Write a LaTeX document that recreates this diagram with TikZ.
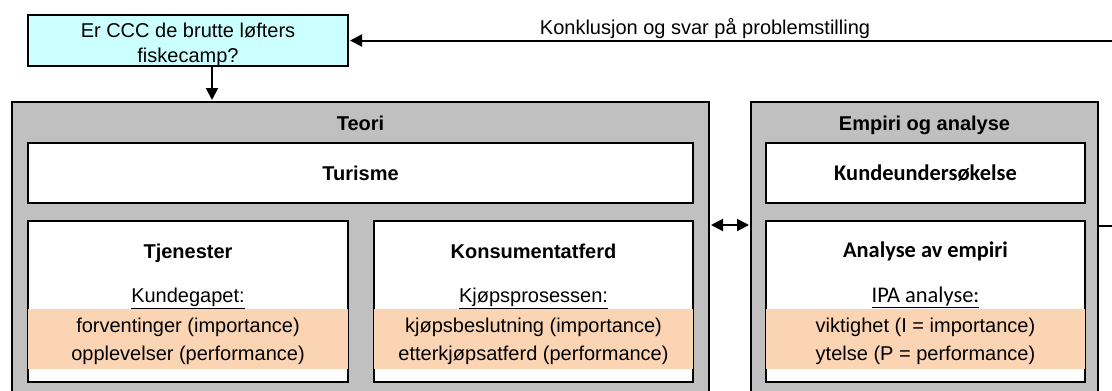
\documentclass[tikz,border=0pt]{standalone}
\usepackage{fontspec}
\setmainfont{Liberation Sans}
\newfontfamily\calibrifont{Carlito}
\usetikzlibrary{fit,arrows.meta}
\definecolor{qcyan}{HTML}{CCFFFF}
\definecolor{panelgray}{HTML}{C0C0C0}
\definecolor{peach}{HTML}{FBD4B4}
\tikzset{
  frame/.style={draw=black, line width=1.5pt, inner sep=0pt},
  txt/.style={anchor=base, inner sep=0pt, font=\fontsize{15}{18}\selectfont},
  hd/.style={anchor=base, inner sep=0pt, font=\fontsize{15}{18}\selectfont\bfseries},
  chd/.style={anchor=base, inner sep=0pt, font=\calibrifont\fontsize{16.8}{20}\selectfont\bfseries},
  ctxt/.style={anchor=base, inner sep=0pt, font=\calibrifont\fontsize{16.8}{20}\selectfont},
  headtip/.tip={Triangle[length=9pt,width=9pt]},
  arrowline/.style={line width=1.5pt, -headtip},
  bandfill/.style={fill=peach},
}
\begin{document}
\begin{tikzpicture}[x=0.75pt,y=-0.75pt]
\useasboundingbox (0,0) rectangle (1112,390);

% research question
\node[frame, fill=qcyan, fit={(28,15)(348,66)}] (q) {};
\node[txt] at (188,37) {Er CCC de brutte løfters};
\node[txt] at (188,62) {fiskecamp?};

% outer panels
\node[frame, fill=panelgray, fit={(12,102)(709,400)}] (teori) {};
\node[frame, fill=panelgray, fit={(751,102)(1098,400)}] (empiri) {};
\node[hd] at (360.5,130) {Teori};
\node[hd] at (924.5,130) {Empiri og analyse};

% band limits
\coordinate (b1) at (0,309);
\coordinate (b2) at (0,369);

% Teori contents
\node[frame, fill=white, fit={(28,143)(693,203)}] (turisme) {};
\node[hd] at (360.5,180) {Turisme};

\node[frame, fill=white, fit={(28,221)(348,382)}] (tj) {};
\fill[bandfill] ([xshift=0.75pt]tj.west |- b1) rectangle ([xshift=-0.75pt]tj.east |- b2);
\node[hd] at (188,258) {Tjenester};
\node[txt] at (188,302) {\underline{Kundegapet:}};
\node[txt] at (188,332) {forventinger (importance)};
\node[txt] at (188,360) {opplevelser (performance)};

\node[frame, fill=white, fit={(374,221)(693,382)}] (ka) {};
\fill[bandfill] ([xshift=0.75pt]ka.west |- b1) rectangle ([xshift=-0.75pt]ka.east |- b2);
\node[hd] at (533.5,258) {Konsumentatferd};
\node[txt] at (533.5,302) {\underline{Kjøpsprosessen:}};
\node[txt] at (533.5,332) {kjøpsbeslutning (importance)};
\node[txt] at (533.5,360) {etterkjøpsatferd (performance)};

% Empiri contents
\node[frame, fill=white, fit={(766,143)(1085,203)}] (ku) {};
\node[chd] at (925.5,180) {Kundeundersøkelse};

\node[frame, fill=white, fit={(766,221)(1085,382)}] (ae) {};
\fill[bandfill] ([xshift=0.75pt]ae.west |- b1) rectangle ([xshift=-0.75pt]ae.east |- b2);
\node[chd] at (925.5,257) {Analyse av empiri};
\node[ctxt] at (925.5,302) {\underline{IPA analyse:}};
\node[txt] at (925.5,332) {viktighet (I = importance)};
\node[txt] at (925.5,360) {ytelse (P = performance)};

% connectors
\draw[arrowline] (q.south -| 212,0) -- ([yshift=0.75pt]teori.north -| 212,0);
\coordinate (mid) at (0,225);
\draw[line width=1.5pt, headtip-headtip]
  ([xshift=0.75pt]teori.east |- mid) -- ([xshift=-0.75pt]empiri.west |- mid);
\coordinate (rc) at (1116,226);
\draw[arrowline] (empiri.east |- rc) -- (rc) |- ([xshift=0.75pt]q.east);
\node[txt] at (705,34) {Konklusjon og svar på problemstilling};
\end{tikzpicture}
\end{document}
